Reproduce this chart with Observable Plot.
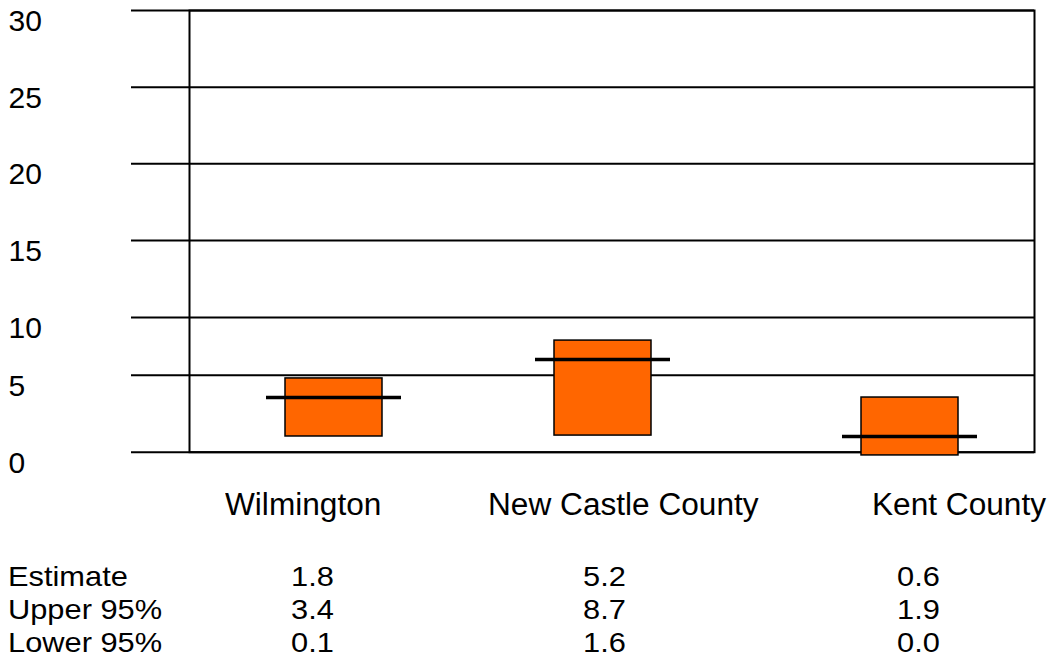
<!DOCTYPE html>
<html>
<head>
<meta charset="utf-8">
<script src="https://cdn.jsdelivr.net/npm/d3@7"></script>
<script src="https://cdn.jsdelivr.net/npm/@observablehq/plot@0.6"></script>
<style>
  html, body { margin: 0; padding: 0; background: #fff; }
  body { width: 1052px; height: 667px; overflow: hidden; font-family: "Liberation Sans", Arial, sans-serif; color: #000; }
  #chart svg { display: block; }
  #below { position: relative; width: 1052px; height: 187px; }
  .lbl { position: absolute; white-space: nowrap; line-height: 1; transform-origin: 0 0; }
</style>
</head>
<body>
<div id="chart"></div>
<div id="below"></div>
<script>
// ---- data ----
const categories = ["Wilmington", "New Castle County", "Kent County"];
const estimate = [1.8, 5.2, 0.6];
const upper95 = [3.4, 8.7, 1.9];
const lower95 = [0.1, 1.6, 0.0];
const rowLabels = ["Estimate", "Upper 95%", "Lower 95%"];
const yTicks = [0, 5, 10, 15, 20, 25, 30];
// box extents and estimate lines as drawn in the picture, read against the y-axis gridlines
const drawnLow = [1.02, 1.08, -0.21];
const drawnHigh = [4.79, 8.0, 3.55];
const drawnMid = [3.55, 6.36, 1.02];

// ---- chart ----
const rows = categories.map((c, i) => ({ i, category: c, low: drawnLow[i], high: drawnHigh[i], mid: drawnMid[i] }));

const chart = Plot.plot({
  width: 1052,
  height: 480,
  marginLeft: 189,
  marginRight: 18,
  marginTop: 10,
  marginBottom: 28.3,
  style: { fontFamily: '"Liberation Sans", Arial, sans-serif', fontSize: "30px", color: "#000", background: "#fff" },
  x: { type: "linear", domain: [0, 1, 2], range: [333.5, 602.5, 909.5], axis: null },
  y: { type: "linear", domain: yTicks, range: [451.7, 374.7, 317, 240, 163.3, 86.7, 10] },
  marks: [
    Plot.ruleY(yTicks, { stroke: "#000", strokeWidth: 2, insetLeft: -58 }),
    Plot.frame({ stroke: "#000", strokeWidth: 2 }),
    Plot.rect(rows, { x1: "i", x2: "i", y1: "low", y2: "high", insetLeft: -48.5, insetRight: -48.5, fill: "#FF6600", stroke: "#000", strokeWidth: 1.5 }),
    Plot.ruleY(rows, { y: "mid", x1: "i", x2: "i", insetLeft: -67.5, insetRight: -67.5, stroke: "#000", strokeWidth: 3.5 }),
    Plot.axisY(yTicks, { anchor: "left", tickSize: 0, tickPadding: 0, textAnchor: "start", dx: -181, dy: 11, fontSize: 30, label: null })
  ]
});
document.getElementById("chart").appendChild(chart);

// ---- category labels and value table ----
const below = document.getElementById("below");
const labelLeft = [225, 488, 872];
const valueLeft = [291, 583, 897];
const rowTop = [83.3, 116.3, 149.3];

function addText(text, left, top, size, sx) {
  const d = document.createElement("div");
  d.className = "lbl";
  d.textContent = text;
  d.style.left = left + "px";
  d.style.top = top + "px";
  d.style.fontSize = size + "px";
  if (sx) d.style.transform = `scaleX(${sx})`;
  below.appendChild(d);
}
categories.forEach((c, i) => addText(c, labelLeft[i], 8.8, 31, 1.02));
const series = [estimate, upper95, lower95];
rowLabels.forEach((r, j) => {
  addText(r, 8, rowTop[j], 28, 1.1);
  series[j].forEach((v, i) => addText(v.toFixed(1), valueLeft[i], rowTop[j], 28, 1.1));
});
</script>
</body>
</html>
